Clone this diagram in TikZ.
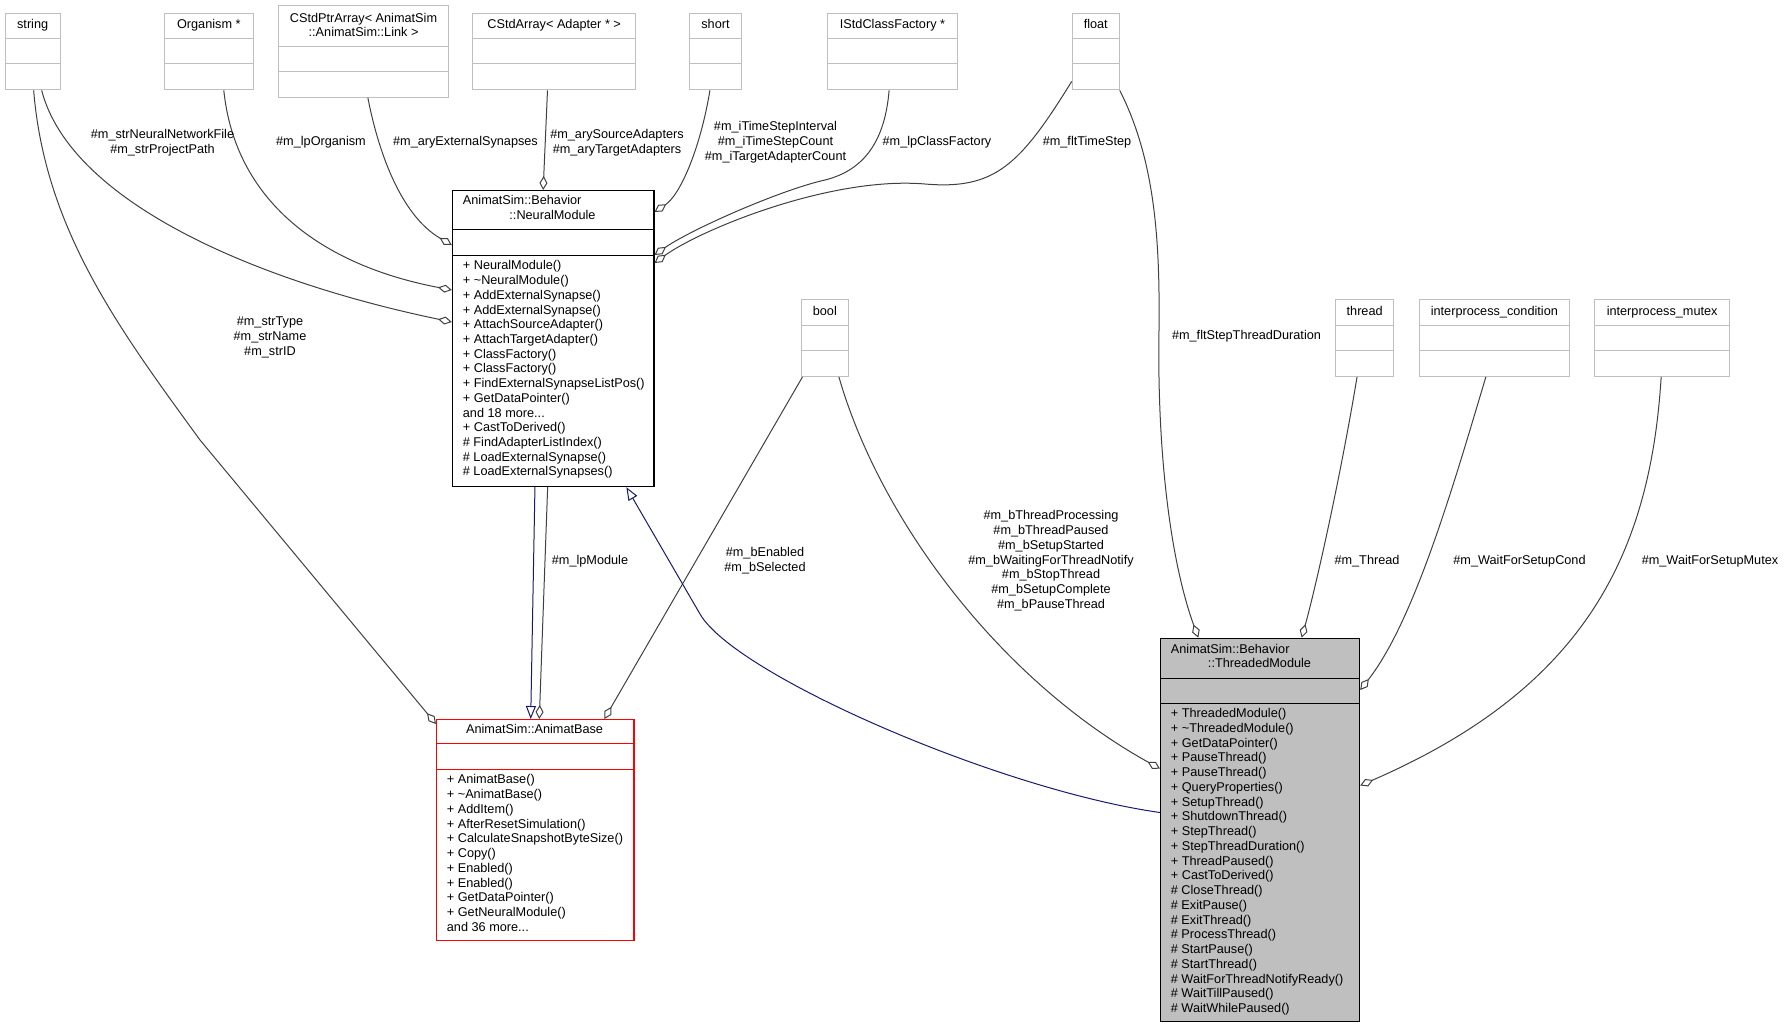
\documentclass[tikz,border=0pt]{standalone}
\usepackage{fontspec}
\setmainfont{Liberation Sans}
\usepackage{tikz}
\usetikzlibrary{arrows.meta}

\definecolor{boxgray}{HTML}{BFBFBF}
\definecolor{edgegray}{HTML}{404040}
\definecolor{inhblue}{HTML}{191970}

\begin{document}
\begin{tikzpicture}[x = 1pt, y = -1pt,
	every node/.style = {inner sep = 0pt, font = \fontsize{12.7}{14.8}\selectfont},
	leaf/.style = {draw = boxgray, line width = 1pt, anchor = north west, minimum height = 76.6pt},
	cls/.style = {draw = black, line width = 1.2pt, anchor = north west},
	rowline/.style = {boxgray, line width = 1pt},
	txtbox/.style = {text height = 9.2pt, text depth = 2.7pt},
	entry/.style = {txtbox, anchor = west},
	member/.style = {edgegray, line width = 1pt, -{Diamond[open, length = 14pt, width = 8pt]}},
	inherit/.style = {inhblue, line width = 1pt, -{Triangle[open, length = 13pt, width = 10pt]}},
	lbl/.style = {align = center}]

	\useasboundingbox (0,0) rectangle (1786,1028);

	\foreach \nm/\xa/\ya/\w/\ttl in {str/4.6/12.7/55.1/string, org/163.6/12.7/89.4/Organism *,
		arr/472.4/12.7/162.6/{CStdArray< Adapter * >}, shrt/689.4/12.7/51.1/short,
		fac/827/12.7/130/{IStdClassFactory *}, flt/1071.8/12.7/46.9/float,
		bool/800.8/299.3/47.1/bool, thr/1335/299.3/58.3/thread,
		cond/1418.7/299.3/150.3/interprocess\_condition, mtx/1594.4/299.3/134.5/interprocess\_mutex}
	{
		\node [leaf, minimum width = \w] (\nm) at (\xa,\ya) {};
		\draw [rowline] ([yshift = -26pt]\nm.north west) -- ([yshift = -26pt]\nm.north east);
		\draw [rowline] ([yshift = -51pt]\nm.north west) -- ([yshift = -51pt]\nm.north east);
		\node [txtbox] (\nm-t) at ([yshift = -13pt]\nm.north) {\ttl};
	}

	\node [leaf, minimum width = 170.5pt, minimum height = 91.4pt] (ptr) at (277.8,5.3) {};
	\draw [rowline] ([yshift = -40.7pt]ptr.north west) -- ([yshift = -40.7pt]ptr.north east);
	\draw [rowline] ([yshift = -65.7pt]ptr.north west) -- ([yshift = -65.7pt]ptr.north east);
	\node [lbl] (ptr-t) at ([yshift = -19.7pt]ptr.north) {CStdPtrArray< AnimatSim\\::AnimatSim::Link >};

	\node [cls, minimum width = 201.5pt, minimum height = 296pt] (nm) at (451.8,190) {};
	\draw [line width = 1.2pt] ([yshift = -39.7pt]nm.north west) -- ([yshift = -39.7pt]nm.north east);
	\draw [line width = 1.2pt] ([yshift = -65.7pt]nm.north west) -- ([yshift = -65.7pt]nm.north east);
	\node [entry] (nm-t1) at (462.7,201.7) {AnimatSim::Behavior};
	\node [txtbox] (nm-t2) at (552.5,216.7) {::NeuralModule};
	\foreach \m [count = \i] in {+ NeuralModule(), + \textasciitilde{}NeuralModule(), + AddExternalSynapse(),
		+ AddExternalSynapse(), + AttachSourceAdapter(), + AttachTargetAdapter(), + ClassFactory(),
		+ ClassFactory(), + FindExternalSynapseListPos(), + GetDataPointer(), {and 18 more.{}.{}.},
		+ CastToDerived(), \# FindAdapterListIndex(), \# LoadExternalSynapse(), \# LoadExternalSynapses()}
	{
		\node [entry] (nm-m\i) at (462.7, {266.7 + (\i - 1)*14.71}) {\m};
	}

	\node [cls, draw = red, minimum width = 197.3pt, minimum height = 221pt] (ab) at (436,719) {};
	\draw [red, line width = 1.2pt] ([yshift = -24.3pt]ab.north west) -- ([yshift = -24.3pt]ab.north east);
	\draw [red, line width = 1.2pt] ([yshift = -50.3pt]ab.north west) -- ([yshift = -50.3pt]ab.north east);
	\node [txtbox] (ab-t) at (534.6,730.7) {AnimatSim::AnimatBase};
	\foreach \m [count = \i] in {+ AnimatBase(), + \textasciitilde{}AnimatBase(), + AddItem(),
		+ AfterResetSimulation(), + CalculateSnapshotByteSize(), + Copy(), + Enabled(), + Enabled(),
		+ GetDataPointer(), + GetNeuralModule(), {and 36 more.{}.{}.}}
	{
		\node [entry] (ab-m\i) at (446.7, {780.7 + (\i - 1)*14.75}) {\m};
	}

	\node [cls, fill = boxgray, minimum width = 199pt, minimum height = 383.3pt] (tm) at (1160,637.7) {};
	\draw [line width = 1.2pt] ([yshift = -40.6pt]tm.north west) -- ([yshift = -40.6pt]tm.north east);
	\draw [line width = 1.2pt] ([yshift = -65.6pt]tm.north west) -- ([yshift = -65.6pt]tm.north east);
	\node [entry] (tm-t1) at (1170.7,650) {AnimatSim::Behavior};
	\node [txtbox] (tm-t2) at (1259.5,664.3) {::ThreadedModule};
	\foreach \m [count = \i] in {+ ThreadedModule(), + \textasciitilde{}ThreadedModule(), + GetDataPointer(),
		+ PauseThread(), + PauseThread(), + QueryProperties(), + SetupThread(), + ShutdownThread(),
		+ StepThread(), + StepThreadDuration(), + ThreadPaused(), + CastToDerived(), \# CloseThread(),
		\# ExitPause(), \# ExitThread(), \# ProcessThread(), \# StartPause(), \# StartThread(),
		\# WaitForThreadNotifyReady(), \# WaitTillPaused(), \# WaitWhilePaused()}
	{
		\node [entry] (tm-m\i) at (1170.7, {714.3 + (\i - 1)*14.75}) {\m};
	}

	\draw [member] ([xshift = 9pt]str.south) .. controls (70,200) and (250,280) .. ([yshift = -132pt]nm.north west);
	\draw [member] ([xshift = 15pt]org.south) .. controls (235,200) and (320,265) .. ([yshift = -100pt]nm.north west);
	\draw [member] ([xshift = 4.3pt]ptr.south) .. controls (378,150) and (400,215) .. ([yshift = -55pt]nm.north west);
	\draw [member] ([xshift = -6.7pt]arr.south) -- ([xshift = -10pt]nm.north);
	\draw [member] ([xshift = -5.5pt]shrt.south) .. controls (700,150) and (680,195) .. ([yshift = -22pt]nm.north east);
	\draw [member] ([xshift = -3.4pt]fac.south) .. controls (885,140) and (865,170) .. (825,180)
		.. controls (780,190) and (690,230) .. ([yshift = -65pt]nm.north east);
	\draw [member] ([yshift = 9pt]flt.south west) .. controls (1020,165) and (995,190) .. (925,184)
		.. controls (830,176) and (700,230) .. ([yshift = -73pt]nm.north east);
	\draw [member] (flt.south east) .. controls (1155,160) and (1160,240) .. (1159,330)
		.. controls (1157,450) and (1170,560) .. ([xshift = 38.3pt]tm.north west);
	\draw [member] ([xshift = -7.6pt]thr.south) .. controls (1340,480) and (1315,590) .. ([xshift = 141.7pt]tm.north west);
	\draw [member] ([xshift = -8.5pt]cond.south) .. controls (1455,480) and (1415,620) .. ([yshift = -52.3pt]tm.north east);
	\draw [member] ([xshift = -1pt]mtx.south) .. controls (1650,560) and (1580,690) .. ([yshift = -147.8pt]tm.north east);
	\draw [member] ([xshift = -10pt]bool.south east) .. controls (880,520) and (1000,680) .. ([yshift = -131pt]tm.north west);
	\draw [member] ([xshift = 1.7pt]bool.south west) -- ([xshift = 168.3pt]ab.north west);
	\draw [member] ([xshift = -5.5pt]nm.south) -- ([xshift = 103.3pt]ab.north west);
	\draw [member] ([xshift = 1pt]str.south) .. controls (45,230) and (120,330) .. (200,440) -- ([yshift = -5pt]ab.north west);

	\draw [inherit] ([yshift = -174.8pt]tm.north west) .. controls (1000,790) and (735,675) .. (700,614) -- ([xshift = 73.2pt]nm.south);
	\draw [inherit] ([xshift = -18.2pt]nm.south) -- ([xshift = 94.7pt]ab.north west);

	\node [lbl] (lbl-str) at (162.5,142.5) {\#m\_strNeuralNetworkFile\\\#m\_strProjectPath};
	\node [lbl] (lbl-org) at (321,142.7) {\#m\_lpOrganism};
	\node [lbl] (lbl-ptr) at (465.5,142.7) {\#m\_aryExternalSynapses};
	\node [lbl] (lbl-arr) at (617,142.5) {\#m\_arySourceAdapters\\\#m\_aryTargetAdapters};
	\node [lbl] (lbl-shrt) at (775.5,142.4) {\#m\_iTimeStepInterval\\\#m\_iTimeStepCount\\\#m\_iTargetAdapterCount};
	\node [lbl] (lbl-fac) at (937,142.7) {\#m\_lpClassFactory};
	\node [lbl] (lbl-flt) at (1087,142.7) {\#m\_fltTimeStep};
	\node [lbl] (lbl-dur) at (1246.5,336.7) {\#m\_fltStepThreadDuration};
	\node [lbl] (lbl-id) at (270,337.2) {\#m\_strType\\\#m\_strName\\\#m\_strID};
	\node [lbl] (lbl-mod) at (590,560.8) {\#m\_lpModule};
	\node [lbl] (lbl-en) at (765,561) {\#m\_bEnabled\\\#m\_bSelected};
	\node [lbl] (lbl-bool) at (1051,560.8) {\#m\_bThreadProcessing\\\#m\_bThreadPaused\\\#m\_bSetupStarted\\\#m\_bWaitingForThreadNotify\\\#m\_bStopThread\\\#m\_bSetupComplete\\\#m\_bPauseThread};
	\node [lbl] (lbl-thr) at (1367,560.8) {\#m\_Thread};
	\node [lbl] (lbl-cond) at (1519.5,560.8) {\#m\_WaitForSetupCond};
	\node [lbl] (lbl-mtx) at (1710,560.8) {\#m\_WaitForSetupMutex};
\end{tikzpicture}
\end{document}
